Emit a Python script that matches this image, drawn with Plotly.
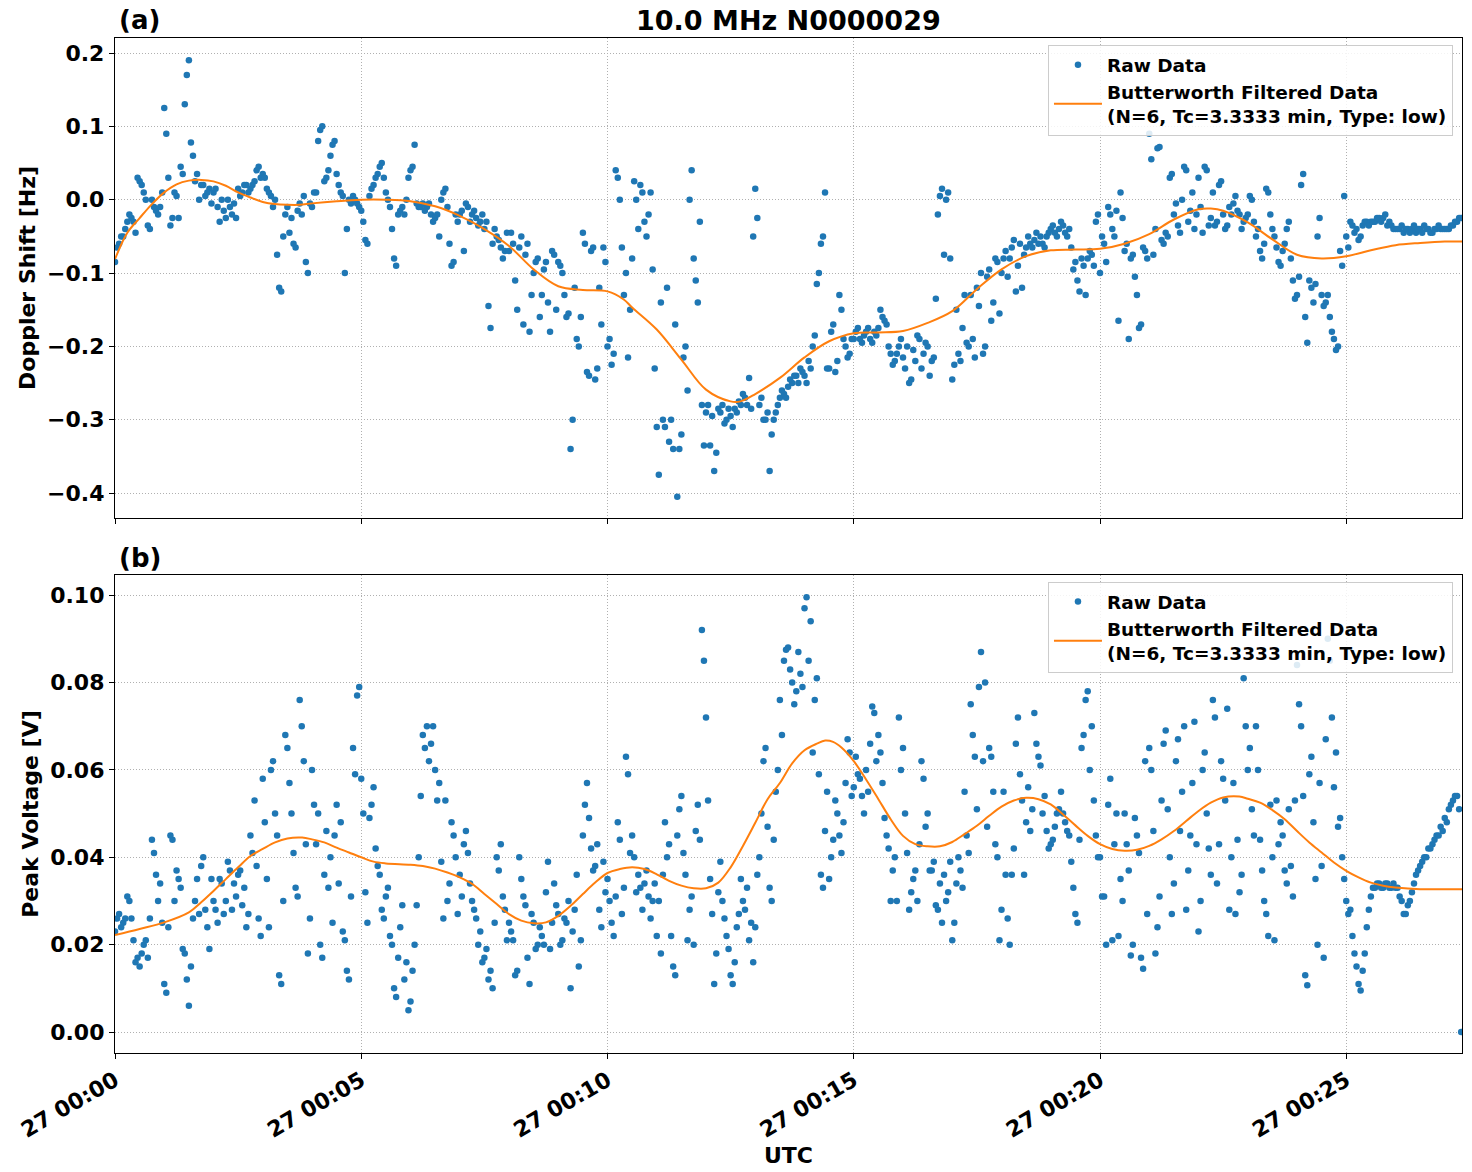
import pandas as pd
import plotly.graph_objects as go

BASE = pd.Timestamp("2024-01-27 00:00:00")
SAMPLE_STEP_S = 5      # raw samples read every 5 s ...
SECOND_OFFSET_S = 2.5  # ... plus a second reading of the cloud offset by 2.5 s

# Panel (a): Doppler shift [Hz], one row per minute (t = 0, 5, 10 ... s)
doppler_raw = [
    -0.085, -0.06, -0.05, -0.03, -0.025, -0.045, 0.025, 0.01, -0.035, 0.0, -0.015, -0.01,
    0.125, 0.03, -0.025, 0.005, 0.045, 0.13, 0.19, 0.06, 0.035, 0.02, 0.005, 0.015,
    0.01, -0.01, 0.0, -0.025, -0.01, -0.005, 0.015, 0.01, 0.02, 0.015, 0.025, 0.045,
    0.035, 0.015, 0.005, 0.0, -0.12, -0.05, -0.01, -0.025, -0.065, -0.005, 0.005, -0.1,
    -0.01, 0.01, 0.095, 0.025, 0.04, 0.075, 0.035, 0.01, -0.1, 0.0, 0.005, -0.005,
    -0.015, -0.055, 0.005, 0.02, 0.035, 0.05, 0.01, -0.01, -0.08, -0.02, -0.01, 0.0,
    0.04, 0.075, -0.01, -0.005, -0.01, -0.02, -0.025, -0.05, 0.01, -0.01, -0.09, -0.02,
    -0.02, -0.07, -0.01, -0.02, -0.025, -0.03, -0.04, -0.145, -0.06, -0.05, -0.065, -0.07,
    -0.07, -0.06, -0.15, -0.05, -0.075, -0.18, -0.1, -0.08, -0.13, -0.085, -0.18, -0.075,
    -0.085, -0.1, -0.16, -0.34, -0.12, -0.2, -0.045, -0.235, -0.07, -0.245, -0.12, -0.065,
    -0.2, -0.225, 0.04, 0.0, -0.13, -0.215, -0.08, 0.0, 0.02, -0.03, -0.02, -0.095,
    -0.31, -0.14, -0.31, -0.33, -0.34, -0.405, -0.32, -0.2, 0.0, -0.08, -0.14, -0.28,
    -0.29, -0.335, -0.37, -0.285, -0.28, -0.3, -0.295, -0.285, -0.275, -0.265, -0.28, -0.285,
    0.015, -0.28, -0.3, -0.29, -0.32, -0.29, -0.27, -0.265, -0.255, -0.25, -0.24, -0.23,
    -0.24, -0.22, -0.2, -0.115, -0.06, 0.01, -0.23, -0.17, -0.22, -0.15, -0.2, -0.21,
    -0.19, -0.175, -0.195, -0.18, -0.19, -0.18, -0.175, -0.16, -0.17, -0.21, -0.22, -0.2,
    -0.215, -0.2, -0.245, -0.22, -0.19, -0.21, -0.2, -0.22, -0.135, 0.005, -0.075, 0.01,
    -0.245, -0.15, -0.22, -0.13, -0.2, -0.19, -0.12, -0.1, -0.2, -0.095, -0.14, -0.085,
    -0.1, -0.07, -0.08, -0.055, -0.09, -0.12, -0.065, -0.06, -0.055, -0.06, -0.06, -0.05,
    -0.04, -0.045, -0.04, -0.035, -0.05, -0.065, -0.085, -0.125, -0.09, -0.08, -0.075, -0.03,
    -0.1, -0.06, -0.01, -0.04, -0.015, 0.01, -0.07, -0.19, -0.075, -0.13, -0.17, -0.07,
    0.09, -0.075, 0.07, -0.055, -0.045, 0.03, -0.02, -0.035, 0.0, 0.04, -0.015, -0.04,
    0.03, -0.045, 0.04, -0.025, -0.035, 0.02, -0.02, -0.035, -0.02, 0.005, -0.02, -0.03,
    -0.02, 0.0, -0.05, -0.07, -0.06, 0.01, -0.04, -0.065, -0.09, -0.06, -0.03, -0.11,
    -0.13, 0.02, -0.16, -0.11, -0.14, -0.05, -0.13, -0.14, -0.16, -0.19, -0.2, -0.09,
    -0.05, -0.03, -0.045, -0.055, -0.035, -0.03, -0.03, -0.03, -0.025, -0.025, -0.035, -0.035,
    -0.04, -0.04, -0.045, -0.04, -0.04, -0.045, -0.04, -0.035, -0.04, -0.045, -0.04, -0.04,
    -0.04, -0.04, -0.035, -0.03, -0.025,
]
# Panel (a): second reading of the cloud (t = 2.5, 7.5, 12.5 ... s)
doppler_raw_2 = [
    -0.065, -0.05, -0.04, -0.02, -0.03, 0.03, 0.02, 0.0, -0.04, -0.01, -0.02, 0.01,
    0.09, -0.035, 0.01, -0.025, 0.035, 0.17, 0.078, 0.025, 0.0, 0.02, 0.01, -0.005,
    0.015, -0.03, -0.015, 0.0, -0.02, -0.025, 0.005, 0.02, 0.01, 0.02, 0.04, 0.03,
    0.03, 0.01, -0.01, -0.075, -0.125, -0.02, -0.045, -0.06, -0.015, -0.02, -0.085, -0.005,
    0.01, 0.08, 0.1, 0.03, 0.06, 0.08, 0.02, 0.005, -0.04, -0.005, 0.0, -0.01,
    -0.03, -0.06, 0.015, 0.03, 0.045, 0.03, 0.0, -0.04, -0.09, -0.015, -0.02, 0.03,
    0.045, -0.005, -0.01, -0.015, -0.005, -0.03, -0.02, 0.0, 0.015, -0.06, -0.085, -0.03,
    -0.015, -0.005, -0.03, -0.015, -0.035, -0.02, -0.03, -0.175, -0.04, -0.055, -0.08, -0.045,
    -0.045, -0.11, -0.065, -0.17, -0.06, -0.13, -0.085, -0.16, -0.095, -0.14, -0.07, -0.15,
    -0.09, -0.13, -0.155, -0.3, -0.19, -0.16, -0.06, -0.24, -0.065, -0.23, -0.17, -0.085,
    -0.19, -0.21, 0.03, -0.065, -0.1, -0.15, 0.025, -0.04, 0.01, -0.05, 0.01, -0.23,
    -0.375, -0.3, -0.12, -0.3, -0.17, -0.34, -0.215, -0.26, 0.04, -0.11, -0.03, -0.335,
    -0.28, -0.295, -0.345, -0.29, -0.305, -0.285, -0.31, -0.29, -0.28, -0.27, -0.243, -0.05,
    -0.025, -0.27, -0.3, -0.37, -0.3, -0.28, -0.26, -0.27, -0.245, -0.24, -0.25, -0.235,
    -0.25, -0.23, -0.185, -0.1, -0.05, -0.23, -0.18, -0.235, -0.13, -0.19, -0.215, -0.19,
    -0.18, -0.19, -0.185, -0.175, -0.195, -0.185, -0.15, -0.165, -0.2, -0.225, -0.21, -0.19,
    -0.23, -0.25, -0.205, -0.185, -0.23, -0.195, -0.24, -0.215, -0.02, 0.015, 0.0, -0.08,
    -0.225, -0.21, -0.175, -0.195, -0.13, -0.215, -0.145, -0.21, -0.105, -0.165, -0.08, -0.155,
    -0.08, -0.105, -0.065, -0.125, -0.06, -0.075, -0.05, -0.065, -0.045, -0.05, -0.065, -0.045,
    -0.035, -0.05, -0.03, -0.045, -0.04, -0.095, -0.11, -0.08, -0.13, -0.07, -0.09, -0.02,
    -0.05, -0.085, -0.02, -0.05, -0.165, -0.025, -0.06, -0.08, -0.105, -0.175, -0.065, -0.08,
    0.055, -0.04, 0.072, -0.06, -0.05, 0.035, -0.005, -0.045, 0.045, -0.03, 0.01, -0.02,
    -0.01, 0.045, -0.035, 0.01, -0.03, 0.025, -0.04, -0.01, -0.005, -0.015, -0.04, -0.025,
    0.005, -0.03, -0.04, -0.08, 0.015, -0.02, -0.05, -0.085, -0.07, -0.04, -0.08, -0.135,
    -0.105, 0.035, -0.195, -0.12, -0.115, -0.025, -0.145, -0.13, -0.18, -0.205, -0.07, 0.005,
    -0.065, -0.035, -0.04, -0.05, -0.03, -0.035, -0.03, -0.025, -0.03, -0.02, -0.03, -0.04,
    -0.04, -0.035, -0.04, -0.045, -0.035, -0.04, -0.045, -0.04, -0.045, -0.04, -0.035, -0.04,
    -0.04, -0.035, -0.03, -0.025,
]

# Panel (b): peak voltage [V], one row per minute (t = 0, 5, 10 ... s)
voltage_raw = [
    0.023, 0.027, 0.025, 0.031, 0.026, 0.016, 0.015, 0.02, 0.017, 0.044, 0.036, 0.034,
    0.011, 0.024, 0.044, 0.037, 0.033, 0.018, 0.006, 0.026, 0.035, 0.038, 0.028, 0.019,
    0.03, 0.025, 0.034, 0.03, 0.037, 0.034, 0.036, 0.029, 0.024, 0.045, 0.053, 0.026,
    0.058, 0.035, 0.06, 0.05, 0.013, 0.03, 0.065, 0.05, 0.033, 0.076, 0.062, 0.018,
    0.06, 0.043, 0.02, 0.036, 0.033, 0.025, 0.052, 0.048, 0.021, 0.012, 0.065, 0.077,
    0.058, 0.032, 0.049, 0.056, 0.038, 0.028, 0.031, 0.022, 0.01, 0.017, 0.029, 0.016,
    0.007, 0.02, 0.04, 0.068, 0.07, 0.066, 0.06, 0.057, 0.026, 0.03, 0.048, 0.04,
    0.036, 0.043, 0.041, 0.03, 0.026, 0.023, 0.017, 0.012, 0.01, 0.04, 0.043, 0.028,
    0.025, 0.021, 0.014, 0.035, 0.029, 0.011, 0.025, 0.02, 0.022, 0.032, 0.019, 0.034,
    0.027, 0.021, 0.025, 0.01, 0.028, 0.015, 0.045, 0.057, 0.042, 0.038, 0.028, 0.039,
    0.035, 0.025, 0.031, 0.044, 0.033, 0.059, 0.045, 0.032, 0.033, 0.034, 0.031, 0.03,
    0.022, 0.018, 0.048, 0.043, 0.015, 0.045, 0.054, 0.036, 0.028, 0.02, 0.052, 0.092,
    0.072, 0.035, 0.011, 0.032, 0.03, 0.022, 0.013, 0.016, 0.027, 0.03, 0.033, 0.025,
    0.024, 0.04, 0.062, 0.047, 0.03, 0.055, 0.076, 0.085, 0.088, 0.08, 0.078, 0.082,
    0.097, 0.085, 0.064, 0.081, 0.036, 0.046, 0.035, 0.044, 0.05, 0.041, 0.057, 0.064,
    0.056, 0.059, 0.054, 0.06, 0.066, 0.073, 0.068, 0.057, 0.045, 0.03, 0.04, 0.072,
    0.065, 0.041, 0.032, 0.037, 0.043, 0.058, 0.05, 0.037, 0.029, 0.034, 0.036, 0.032,
    0.021, 0.034, 0.037, 0.055, 0.041, 0.068, 0.051, 0.087, 0.08, 0.065, 0.055, 0.04,
    0.028, 0.036, 0.02, 0.042, 0.072, 0.053, 0.048, 0.046, 0.073, 0.063, 0.05, 0.046,
    0.043, 0.047, 0.051, 0.05, 0.046, 0.039, 0.027, 0.044, 0.068, 0.078, 0.07, 0.045,
    0.04, 0.031, 0.052, 0.021, 0.05, 0.035, 0.05, 0.037, 0.02, 0.045, 0.017, 0.062,
    0.065, 0.046, 0.024, 0.053, 0.069, 0.04, 0.034, 0.067, 0.055, 0.028, 0.045, 0.071,
    0.023, 0.06, 0.05, 0.036, 0.072, 0.043, 0.058, 0.074, 0.04, 0.027, 0.032, 0.081,
    0.06, 0.051, 0.07, 0.044, 0.03, 0.022, 0.04, 0.053, 0.048, 0.037, 0.051, 0.031,
    0.084, 0.07, 0.013, 0.059, 0.048, 0.02, 0.038, 0.067, 0.085, 0.056, 0.047, 0.04,
    0.03, 0.028, 0.018, 0.011, 0.014, 0.024, 0.031, 0.033, 0.034, 0.033, 0.034, 0.033,
    0.033, 0.031, 0.027, 0.029, 0.032, 0.036, 0.038, 0.04, 0.042, 0.043, 0.045, 0.047,
    0.049, 0.051, 0.053, 0.054, 0.0,
]
# Panel (b): second reading of the cloud (t = 2.5, 7.5, 12.5 ... s)
voltage_raw_2 = [
    0.026, 0.024, 0.026, 0.03, 0.021, 0.017, 0.018, 0.021, 0.026, 0.041, 0.03, 0.025,
    0.009, 0.045, 0.03, 0.035, 0.019, 0.012, 0.015, 0.03, 0.027, 0.04, 0.024, 0.035,
    0.028, 0.035, 0.027, 0.039, 0.028, 0.031, 0.037, 0.033, 0.027, 0.041, 0.038, 0.022,
    0.048, 0.024, 0.062, 0.045, 0.011, 0.068, 0.057, 0.041, 0.031, 0.07, 0.043, 0.026,
    0.052, 0.05, 0.017, 0.046, 0.04, 0.045, 0.034, 0.023, 0.014, 0.031, 0.059, 0.079,
    0.05, 0.025, 0.052, 0.042, 0.036, 0.026, 0.033, 0.02, 0.008, 0.024, 0.012, 0.005,
    0.014, 0.029, 0.054, 0.065, 0.062, 0.07, 0.053, 0.039, 0.053, 0.034, 0.045, 0.027,
    0.031, 0.046, 0.034, 0.028, 0.02, 0.016, 0.019, 0.014, 0.025, 0.037, 0.031, 0.021,
    0.023, 0.013, 0.04, 0.031, 0.017, 0.027, 0.019, 0.024, 0.02, 0.039, 0.025, 0.029,
    0.02, 0.026, 0.03, 0.023, 0.036, 0.021, 0.052, 0.049, 0.037, 0.043, 0.024, 0.032,
    0.03, 0.022, 0.048, 0.027, 0.063, 0.041, 0.04, 0.036, 0.028, 0.037, 0.026, 0.034,
    0.03, 0.036, 0.04, 0.022, 0.013, 0.051, 0.041, 0.021, 0.031, 0.046, 0.044, 0.085,
    0.053, 0.027, 0.018, 0.039, 0.026, 0.019, 0.011, 0.024, 0.035, 0.028, 0.021, 0.016,
    0.036, 0.05, 0.065, 0.033, 0.044, 0.06, 0.068, 0.0875, 0.083, 0.075, 0.087, 0.079,
    0.0995, 0.094, 0.076, 0.059, 0.033, 0.055, 0.04, 0.053, 0.045, 0.048, 0.067, 0.054,
    0.063, 0.058, 0.05, 0.055, 0.0745, 0.062, 0.064, 0.049, 0.042, 0.037, 0.03, 0.06,
    0.05, 0.028, 0.035, 0.03, 0.062, 0.047, 0.037, 0.039, 0.028, 0.025, 0.03, 0.039,
    0.025, 0.04, 0.033, 0.045, 0.075, 0.063, 0.079, 0.062, 0.047, 0.063, 0.043, 0.021,
    0.055, 0.026, 0.036, 0.066, 0.059, 0.036, 0.056, 0.051, 0.066, 0.061, 0.054, 0.042,
    0.044, 0.05, 0.055, 0.048, 0.045, 0.033, 0.025, 0.065, 0.076, 0.06, 0.053, 0.04,
    0.031, 0.02, 0.058, 0.043, 0.022, 0.03, 0.043, 0.0175, 0.049, 0.041, 0.0145, 0.027,
    0.06, 0.018, 0.031, 0.066, 0.051, 0.027, 0.062, 0.046, 0.07, 0.037, 0.057, 0.043,
    0.03, 0.064, 0.042, 0.076, 0.034, 0.062, 0.053, 0.028, 0.057, 0.044, 0.036, 0.07,
    0.065, 0.045, 0.06, 0.037, 0.027, 0.052, 0.021, 0.043, 0.045, 0.034, 0.038, 0.053,
    0.075, 0.054, 0.0107, 0.063, 0.035, 0.057, 0.017, 0.09, 0.072, 0.064, 0.049, 0.035,
    0.027, 0.022, 0.015, 0.0095, 0.018, 0.028, 0.033, 0.034, 0.033, 0.034, 0.033, 0.034,
    0.033, 0.03, 0.027, 0.03, 0.034, 0.037, 0.039, 0.04, 0.042, 0.044, 0.045, 0.046,
    0.048, 0.052, 0.054, 0.051,
]

# Butterworth filtered curves (time in minutes, value)
doppler_filt_min = [0, 0.25, 0.5, 0.75, 1.0, 1.25, 1.5, 1.75, 2.0, 2.25, 2.5, 2.75, 3.0, 3.25, 3.5,
                    3.75, 4.0, 4.5, 5.0, 5.5, 6.0, 6.5, 7.0, 7.5, 8.0, 8.5, 9.0, 9.5, 10.0, 10.33,
                    10.5, 11.0, 11.5, 12.0, 12.5, 12.7, 13.0, 13.5, 14.0, 14.5, 15.0, 15.5, 16.0,
                    16.5, 17.0, 17.5, 18.0, 18.5, 19.0, 19.5, 20.0, 20.5, 21.0, 21.5, 22.0, 22.25,
                    22.5, 23.0, 23.5, 24.0, 24.5, 25.0, 25.5, 26.0, 26.5, 27.0, 27.38]
doppler_filt = [-0.081, -0.045, -0.025, -0.006, 0.01, 0.021, 0.026, 0.027, 0.025, 0.019, 0.01,
                0.003, -0.003, -0.006, -0.007, -0.007, -0.005, -0.002, 0.0, 0.0, -0.002, -0.009,
                -0.022, -0.04, -0.063, -0.095, -0.118, -0.123, -0.125, -0.136, -0.147, -0.177,
                -0.218, -0.259, -0.275, -0.275, -0.265, -0.243, -0.215, -0.193, -0.182, -0.181,
                -0.179, -0.168, -0.152, -0.122, -0.095, -0.077, -0.069, -0.068, -0.067, -0.06,
                -0.047, -0.027, -0.013, -0.012, -0.015, -0.031, -0.054, -0.075, -0.08, -0.077,
                -0.069, -0.062, -0.059, -0.057, -0.057]

voltage_filt_min = [0, 0.5, 1.0, 1.5, 1.75, 2.0, 2.25, 2.5, 2.75, 3.0, 3.25, 3.5, 3.8, 4.0, 4.25,
                    4.5, 4.75, 5.0, 5.25, 5.5, 6.0, 6.25, 6.5, 6.75, 7.0, 7.25, 7.5, 7.75, 8.0,
                    8.25, 8.5, 8.75, 9.0, 9.25, 9.5, 9.75, 10.0, 10.25, 10.5, 10.75, 11.0, 11.25,
                    11.5, 11.75, 12.0, 12.25, 12.5, 12.75, 13.0, 13.25, 13.5, 13.75, 14.0, 14.25,
                    14.42, 14.58, 14.75, 15.0, 15.25, 15.5, 15.75, 16.0, 16.25, 16.5, 16.75, 17.0,
                    17.25, 17.5, 17.75, 18.0, 18.25, 18.5, 18.75, 19.0, 19.25, 19.5, 19.75, 20.0,
                    20.25, 20.5, 20.75, 21.0, 21.25, 21.5, 21.75, 22.0, 22.25, 22.5, 22.83, 23.0,
                    23.25, 23.5, 23.75, 24.0, 24.25, 24.5, 24.75, 25.0, 25.25, 25.5, 25.75, 26.0,
                    26.5, 27.0, 27.38]
voltage_filt = [0.0222, 0.0236, 0.0251, 0.0274, 0.0297, 0.0323, 0.035, 0.0377, 0.0403, 0.0419,
                0.0434, 0.0443, 0.0445, 0.0441, 0.0434, 0.0422, 0.0411, 0.04, 0.039, 0.0386,
                0.0383, 0.038, 0.0374, 0.0365, 0.0354, 0.0339, 0.0316, 0.0293, 0.027, 0.0255,
                0.0249, 0.0251, 0.0266, 0.0289, 0.0316, 0.0342, 0.0364, 0.0373, 0.0377, 0.0373,
                0.0361, 0.0346, 0.0335, 0.0329, 0.0329, 0.0342, 0.0377, 0.0426, 0.0479, 0.0533,
                0.057, 0.0615, 0.0645, 0.066, 0.0667, 0.0664, 0.0651, 0.062, 0.0578, 0.0533,
                0.0487, 0.0449, 0.043, 0.0425, 0.0425, 0.0435, 0.0453, 0.0472, 0.0495, 0.0516,
                0.053, 0.0536, 0.0533, 0.0521, 0.0498, 0.0473, 0.0449, 0.043, 0.0419, 0.0415,
                0.0417, 0.0426, 0.0441, 0.046, 0.0483, 0.0506, 0.0525, 0.0537, 0.0539, 0.0534,
                0.0525, 0.0508, 0.0487, 0.046, 0.0434, 0.0411, 0.0388, 0.0369, 0.0354, 0.0342,
                0.0335, 0.0331, 0.0327, 0.0327, 0.0327]

TITLE = "10.0 MHz N0000029"
RAW_NAME = "Raw Data"
FILT_NAME = "Butterworth Filtered Data<br>(N=6, Tc=3.3333 min, Type: low)"
X_END_S = 1641

# ---------------------------------------------------------------------------
def sample_times(vals, offset):
    secs = [offset + SAMPLE_STEP_S * i for i in range(len(vals))]
    return list(BASE + pd.to_timedelta(secs, unit="s"))


def merged(first, second):
    xs = sample_times(first, 0) + sample_times(second, SECOND_OFFSET_S)
    ys = list(first) + list(second)
    return xs, ys


def min_times(mins):
    return list(BASE + pd.to_timedelta(mins, unit="m"))


BLUE = "#1f77b4"
ORANGE = "#ff7f0e"
FONT = "DejaVu Sans"

da_x, da_y = merged(doppler_raw, doppler_raw_2)
vb_x, vb_y = merged(voltage_raw, voltage_raw_2)

fig = go.Figure()
fig.add_trace(go.Scatter(x=da_x, y=da_y, mode="markers", name=RAW_NAME,
                         marker=dict(color=BLUE, size=6.5), xaxis="x", yaxis="y", legend="legend"))
fig.add_trace(go.Scatter(x=min_times(doppler_filt_min), y=doppler_filt, mode="lines", name=FILT_NAME,
                         line=dict(color=ORANGE, width=2, shape="spline"), xaxis="x", yaxis="y",
                         legend="legend"))
fig.add_trace(go.Scatter(x=vb_x, y=vb_y, mode="markers", name=RAW_NAME,
                         marker=dict(color=BLUE, size=6.5), xaxis="x2", yaxis="y2", legend="legend2"))
fig.add_trace(go.Scatter(x=min_times(voltage_filt_min), y=voltage_filt, mode="lines", name=FILT_NAME,
                         line=dict(color=ORANGE, width=2, shape="spline"), xaxis="x2", yaxis="y2",
                         legend="legend2"))

tickfont = dict(family=FONT, size=22, color="black", weight="bold")
titlefont = dict(family=FONT, size=22, color="black", weight="bold")
x_range = [BASE, BASE + pd.Timedelta(seconds=X_END_S)]

common_axis = dict(showline=True, linecolor="black", linewidth=1.3, mirror=True,
                   ticks="outside", ticklen=5, tickwidth=1.2, tickcolor="black",
                   showgrid=True, gridcolor="#b0b0b0", griddash="1px,2px", gridwidth=1,
                   zeroline=False, tickfont=tickfont)

common_x = dict(common_axis, type="date", range=x_range, tick0=BASE, dtick=5 * 60 * 1000)

legend_common = dict(x=0.9933, xanchor="right", yanchor="top", itemwidth=48,
                     bgcolor="rgba(255,255,255,0.85)", bordercolor="#cccccc", borderwidth=1,
                     font=dict(family=FONT, size=18.5, color="black", weight="bold"),
                     tracegroupgap=0)

fig.update_layout(
    width=1472, height=1172, autosize=False,
    margin=dict(l=115, r=10, t=38, b=119),
    paper_bgcolor="white", plot_bgcolor="white",
    font=dict(family=FONT, color="black"),
    showlegend=True,
    xaxis=dict(common_x, domain=[0, 1], anchor="y", matches="x2", showticklabels=False),
    yaxis=dict(common_axis, domain=[0.5271, 1], anchor="x", range=[-0.434, 0.2205],
               tick0=0, dtick=0.1, tickformat=".1f",
               title=dict(text="Doppler Shift [Hz]", font=titlefont, standoff=5)),
    xaxis2=dict(common_x, domain=[0, 1], anchor="y2", tickformat="%d %H:%M", tickangle=-30,
                title=dict(text="UTC", font=titlefont, standoff=2)),
    yaxis2=dict(common_axis, domain=[0, 0.4709], anchor="x2", range=[-0.0048, 0.1046],
                tick0=0, dtick=0.02, tickformat=".2f",
                title=dict(text="Peak Voltage [V]", font=titlefont, standoff=5)),
    legend=dict(legend_common, y=0.993),
    legend2=dict(legend_common, y=0.464),
    annotations=[
        dict(text=TITLE, x=0.5, y=1.0177, xref="paper", yref="paper", showarrow=False,
             xanchor="center", yanchor="middle",
             font=dict(family=FONT, size=27, color="black", weight="bold")),
        dict(text="(a)", x=0.0015, y=1.0177, xref="paper", yref="paper", showarrow=False,
             xanchor="left", yanchor="middle",
             font=dict(family=FONT, size=26, color="black", weight="bold")),
        dict(text="(b)", x=0.0015, y=0.4877, xref="paper", yref="paper", showarrow=False,
             xanchor="left", yanchor="middle",
             font=dict(family=FONT, size=26, color="black", weight="bold")),
    ],
)

fig.write_html("out.html")
